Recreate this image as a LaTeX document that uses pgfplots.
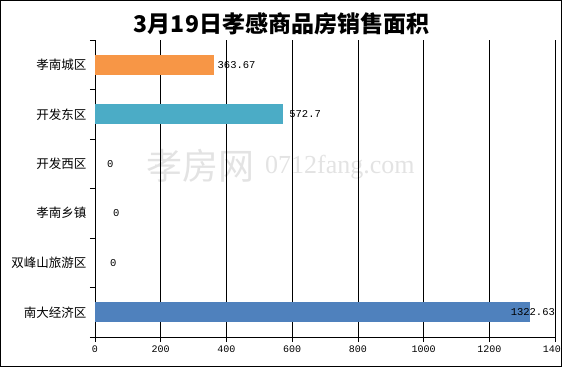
\documentclass[border=0pt]{standalone}
\usepackage{pgfplots}
\pgfplotsset{compat=1.18}
\usepackage{fontspec}
\setmainfont{Noto Sans CJK SC}
\newfontfamily\numfont{Liberation Mono}
\newfontfamily\wmfont{Liberation Serif}
\definecolor{barorange}{HTML}{F79646}
\definecolor{barteal}{HTML}{4BACC6}
\definecolor{barblue}{HTML}{4F81BD}
\begin{document}
\begin{tikzpicture}
\begin{scope}[x=1pt,y=1pt,shift={(-95pt,-31pt)}]
% watermark
\node[text=black!11, font=\fontsize{36}{36}\selectfont, anchor=west, inner sep=0pt] at (146,202) {孝房网};
\node[text=black!11, font=\wmfont\fontsize{26}{26}\selectfont, anchor=west, inner sep=0pt] at (265,201) {0712fang.com};
% title
\node[font=\bfseries\fontsize{23}{23}\selectfont, inner sep=0pt] at (281.5,344) {3月19日孝感商品房销售面积};
\end{scope}
\begin{axis}[
  scale only axis,
  width=460pt, height=297pt,
  xbar, bar shift=0pt, bar width=20pt,
  xmin=0, xmax=1400, ymin=-0.5, ymax=5.5,
  axis x line*=bottom, axis y line*=left,
  axis line style={-, black, line width=0.7pt},
  xtick={0,200,...,1400},
  xmajorgrids, grid style={black, line width=0.7pt},
  tick align=outside, major tick length=5pt,
  tick style={black, line width=0.7pt},
  ytick={-0.5,0.5,...,5.5},
  y tick label as interval,
  yticklabels={南大经济区,双峰山旅游区,孝南乡镇,开发西区,开发东区,孝南城区},
  yticklabel style={font=\fontsize{12.5}{14}\selectfont},
  xticklabel style={font=\numfont\fontsize{10}{12}\selectfont},
  /pgf/number format/assume math mode=true,
  /pgf/number format/1000 sep={},
  point meta=explicit symbolic,
  nodes near coords={\pgfplotspointmeta},
  every node near coord/.append style={font=\numfont\fontsize{10.5}{12}\selectfont, anchor=west, inner sep=0pt, text=black},
  clip=false,
]
\addplot[fill=barorange, draw=none, every node near coord/.append style={xshift=3pt}] coordinates {(363.67,5) [363.67]};
\addplot[fill=barteal, draw=none, every node near coord/.append style={xshift=6pt}] coordinates {(572.7,4) [572.7]};
\addplot[fill=barblue, draw=none, every node near coord/.append style={xshift=-19pt}] coordinates {(1322.63,0) [1322.63]};
\addplot[draw=none, fill=none, every node near coord/.append style={xshift=12pt}] coordinates {(0,3) [0]};
\addplot[draw=none, fill=none, every node near coord/.append style={xshift=18pt}] coordinates {(0,2) [0]};
\addplot[draw=none, fill=none, every node near coord/.append style={xshift=15pt}] coordinates {(0,1) [0]};
\end{axis}
\begin{scope}[x=1pt,y=1pt,shift={(-95pt,-31pt)}]
\fill[white] (561.5,-2) rectangle (566,370);
\draw[black, line width=1pt] (1,1.3) rectangle (561.5,367.3);
\end{scope}
\pgfresetboundingbox
\useasboundingbox (-95pt,-31pt) rectangle (468pt,337pt);
\end{tikzpicture}
\end{document}
